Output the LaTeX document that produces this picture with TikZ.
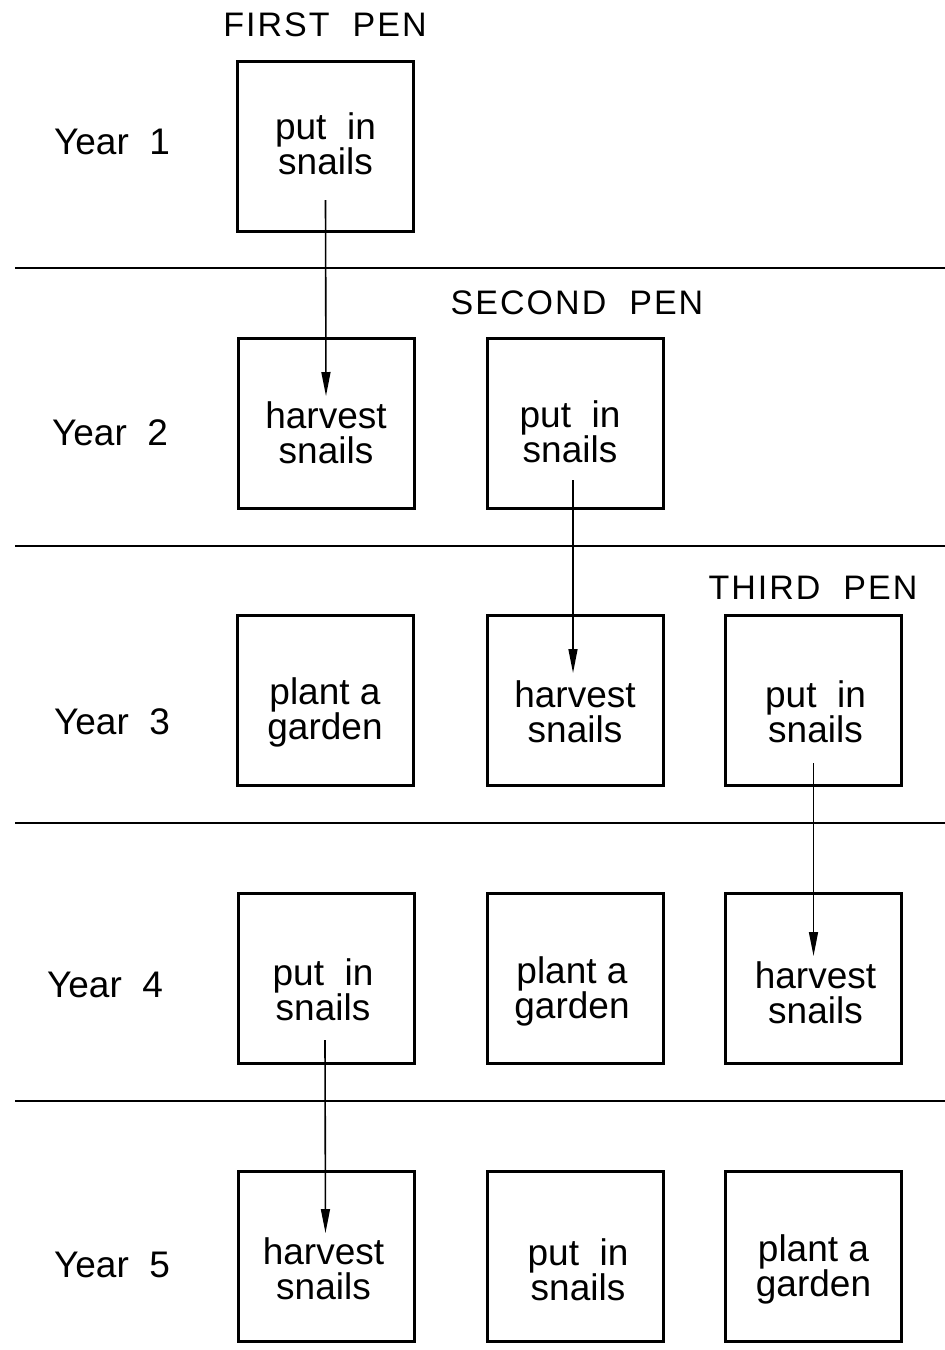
\documentclass[tikz,border=0pt]{standalone}
\usepackage{fontspec}
\setmainfont{Liberation Sans}
\usetikzlibrary{arrows.meta,calc}
\begin{document}
\begin{tikzpicture}[x=1pt,y=-1pt,
  pen/.style={draw, line width=3pt, minimum width=176pt, minimum height=170pt, inner sep=0pt},
  txt/.style={align=center, inner sep=0pt, font=\fontsize{37}{35}\selectfont},
  yr/.style={inner sep=0pt, font=\fontsize{37}{38}\selectfont},
  hdr/.style={inner sep=0pt, font=\fontsize{34}{35}\selectfont\addfontfeature{LetterSpace=6}},
  sep/.style={line width=2pt},
  flow/.style={line width=1.6pt, -{Triangle[length=24pt,width=9pt]}}]
\useasboundingbox (0,0) rectangle (945,1350);
% separators
\draw[sep] (15,268) -- (945,268);
\draw[sep] (15,546) -- (945,546);
\draw[sep] (15,823) -- (945,823);
\draw[sep] (15,1101) -- (945,1101);
% headers
\node[hdr] (h1) at (325,25) {FIRST\ \ PEN};
\node[hdr] (h2) at (577,303) {SECOND\ \ PEN};
\node[hdr] (h3) at (813,588) {THIRD\ \ PEN};
% year labels
\node[yr] (y1) at (112,142) {Year\ \ 1};
\node[yr] (y2) at (110,433) {Year\ \ 2};
\node[yr] (y3) at (112,722) {Year\ \ 3};
\node[yr] (y4) at (105,985) {Year\ \ 4};
\node[yr] (y5) at (112,1265) {Year\ \ 5};
% boxes
\node[pen] (b11) at (325.5,146) {};
\node[pen] (b21) at (326,423) {};
\node[pen] (b22) at (575,423) {};
\node[pen] (b31) at (325,700) {};
\node[pen] (b32) at (575,700) {};
\node[pen] (b33) at (813.5,700) {};
\node[pen] (b41) at (326,978) {};
\node[pen] (b42) at (575,978) {};
\node[pen] (b43) at (813.5,978) {};
\node[pen] (b51) at (326.5,1256) {};
\node[pen] (b52) at (575,1256) {};
\node[pen] (b53) at (813.5,1256) {};
% texts
\node[txt] (t11) at ($(b11.center)+(0,-2)$) {put\ \ in\\snails};
\node[txt] (t21) at ($(b21.center)+(0,10)$) {harvest\\snails};
\node[txt] (t22) at ($(b22.center)+(-5,9)$) {put\ \ in\\snails};
\node[txt] (t31) at ($(b31.center)+(0,12)$) {plant a\\garden};
\node[txt] (t32) at ($(b32.center)+(0,12)$) {harvest\\snails};
\node[txt] (t33) at ($(b33.center)+(2,12)$) {put\ \ in\\snails};
\node[txt] (t41) at ($(b41.center)+(-3,12)$) {put\ \ in\\snails};
\node[txt] (t42) at ($(b42.center)+(-3,13)$) {plant a\\garden};
\node[txt] (t43) at ($(b43.center)+(2,15)$) {harvest\\snails};
\node[txt] (t51) at ($(b51.center)+(-3,13)$) {harvest\\snails};
\node[txt] (t52) at ($(b52.center)+(3,14)$) {put\ \ in\\snails};
\node[txt] (t53) at ($(b53.center)+(0,13)$) {plant a\\garden};
% arrows
\draw[flow] ($(b11.center)+(0,54)$) -- ($(b21.center)+(0,-27)$);
\draw[flow] ($(b22.center)+(-2,57)$) -- ($(b32.center)+(-2,-27)$);
\draw[flow] ($(b33.center)+(0,63)$) -- ($(b43.center)+(0,-22)$);
\draw[flow] ($(b41.center)+(-1,62)$) -- ($(b51.center)+(-1,-23)$);
\end{tikzpicture}
\end{document}
